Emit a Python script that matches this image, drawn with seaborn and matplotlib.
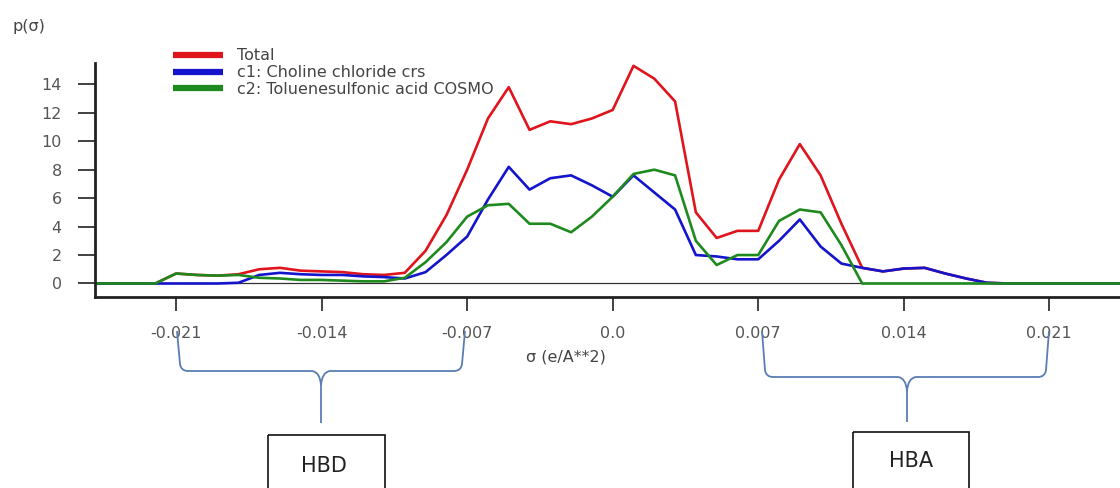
import matplotlib
matplotlib.use("Agg")
import numpy as np
import pandas as pd
import matplotlib.pyplot as plt
import seaborn as sns
from matplotlib.path import Path
from matplotlib.patches import PathPatch, Rectangle

# ---------------- data ----------------
sigma_steps = list(range(-25, 26))          # sigma in units of 0.001 e/A^2
sigma = [s / 1000 for s in sigma_steps]

total = [0, 0, 0, 0,
         0.7, 0.6, 0.55, 0.65, 1.0, 1.1, 0.9, 0.85, 0.8, 0.65, 0.6, 0.75,
         2.3, 4.8, 8.0, 11.6, 13.8, 10.8, 11.4, 11.2, 11.6,
         12.2, 15.3, 14.4, 12.8, 5.0, 3.2, 3.7, 3.7, 7.3, 9.8, 7.6, 4.2,
         1.1, 0.85, 1.05, 1.1, 0.7, 0.35, 0.05,
         0, 0, 0, 0, 0, 0, 0]
c1 = [0, 0, 0, 0,
      0, 0, 0, 0.05, 0.6, 0.75, 0.65, 0.6, 0.6, 0.5, 0.45, 0.35,
      0.8, 2.0, 3.3, 5.9, 8.2, 6.6, 7.4, 7.6, 6.9,
      6.1, 7.6, 6.4, 5.2, 2.0, 1.9, 1.7, 1.7, 3.0, 4.5, 2.6, 1.4,
      1.1, 0.85, 1.05, 1.1, 0.7, 0.35, 0.05,
      0, 0, 0, 0, 0, 0, 0]
c2 = [0, 0, 0, 0,
      0.7, 0.6, 0.55, 0.6, 0.4, 0.35, 0.25, 0.25, 0.2, 0.15, 0.15, 0.4,
      1.5, 2.9, 4.7, 5.5, 5.6, 4.2, 4.2, 3.6, 4.7,
      6.1, 7.7, 8.0, 7.6, 3.0, 1.3, 2.0, 2.0, 4.4, 5.2, 5.0, 2.7,
      0, 0, 0, 0, 0, 0, 0,
      0, 0, 0, 0, 0, 0, 0]

series_names = ["Total", "c1: Choline chloride crs", "c2: Toluenesulfonic acid COSMO"]
series_colors = ["#e0141c", "#1414cc", "#1e8a1e"]

x_ticks = [-0.021, -0.014, -0.007, 0.0, 0.007, 0.014, 0.021]
x_tick_labels = ["-0.021", "-0.014", "-0.007", "0.0", "0.007", "0.014", "0.021"]
y_ticks = [0, 2, 4, 6, 8, 10, 12, 14]

df = pd.concat([
    pd.DataFrame({"sigma": sigma, "p": vals, "series": name})
    for name, vals in zip(series_names, [total, c1, c2])
], ignore_index=True)

# ---------------- figure ----------------
sns.set_style("ticks")
plt.rcParams["font.family"] = ["DejaVu Sans"]

W, H = 1120, 488
fig = plt.figure(figsize=(W / 100, H / 100), dpi=100)
ax = fig.add_axes([95 / W, 1 - 297 / H, 1 - 95 / W, (297 - 63) / H])

ax.axhline(0, color="#333333", lw=0.9, zorder=1)
sns.lineplot(data=df, x="sigma", y="p", hue="series", hue_order=series_names,
             palette=series_colors, linewidth=1.9, ax=ax, sort=False, zorder=2)

ax.set_xlim(-0.0249, 0.0244)
ax.set_ylim(-0.95, 15.5)
ax.set_xticks(x_ticks)
ax.set_xticklabels(x_tick_labels)
ax.set_yticks(y_ticks)
ax.tick_params(axis="x", length=10, width=1.3, colors="#333333", labelcolor="#555555",
               labelsize=11.5, pad=11, direction="out")
ax.tick_params(axis="y", length=12, width=1.3, colors="#333333", labelcolor="#555555",
               labelsize=11.5, pad=12, direction="out")
for side in ["top", "right"]:
    ax.spines[side].set_visible(False)
for side in ["left", "bottom"]:
    ax.spines[side].set_linewidth(2.0)
    ax.spines[side].set_color("#222222")
ax.set_xlabel("")
ax.set_ylabel("")

# legend
handles, labels = ax.get_legend_handles_labels()
leg = ax.legend(handles, labels, loc="upper left",
                bbox_to_anchor=(173 / W, 1 - 48.5 / H), bbox_transform=fig.transFigure,
                frameon=False, fontsize=11.5, handlelength=3.1, handletextpad=0.9,
                labelspacing=0.1, borderpad=0, borderaxespad=0)
for h in leg.legend_handles:
    h.set_linewidth(4.5)
    h.set_solid_capstyle("butt")
for t in leg.get_texts():
    t.set_color("#444444")

# axis titles
fig.text(12 / W, 1 - 27 / H, "p(σ)", fontsize=11.5, color="#444444", ha="left", va="center")
fig.text(566 / W, 1 - 357 / H, "σ (e/A**2)", fontsize=11.5, color="#444444", ha="center", va="center")

# ---------------- annotations (pixel overlay) ----------------
ov = fig.add_axes([0, 0, 1, 1], zorder=5)
ov.set_xlim(0, W)
ov.set_ylim(H, 0)
ov.axis("off")
ov.patch.set_alpha(0)


def brace(xl, xr, xc, ytop, yh, ybot):
    M, L, C = Path.MOVETO, Path.LINETO, Path.CURVE3
    verts = [(xl, ytop), (xl + 3, yh - 7), (xl + 4, yh), (xl + 11, yh),
             (xc - 9, yh), (xc - 1, yh + 1), (xc, yh + 14), (xc, ybot),
             (xr, ytop), (xr - 3, yh - 7), (xr - 4, yh), (xr - 11, yh),
             (xc + 9, yh), (xc + 1, yh + 1), (xc, yh + 14)]
    codes = [M, L, C, C, L, C, C, L, M, L, C, C, L, C, C]
    ov.add_patch(PathPatch(Path(verts, codes), fill=False, edgecolor="#5a7db5", lw=1.3))


brace(177, 465, 321, 331, 371, 423)
brace(762, 1049, 907, 331, 377, 422)

ov.add_patch(Rectangle((268, 435), 117, 70, fill=False, edgecolor="#111111", lw=1.2))
ov.add_patch(Rectangle((853, 432), 116, 70, fill=False, edgecolor="#111111", lw=1.2))
ov.text(324, 466, "HBD", fontsize=15, color="#222222", ha="center", va="center")
ov.text(911, 461, "HBA", fontsize=15, color="#222222", ha="center", va="center")

fig.savefig("out.png", dpi=100)
